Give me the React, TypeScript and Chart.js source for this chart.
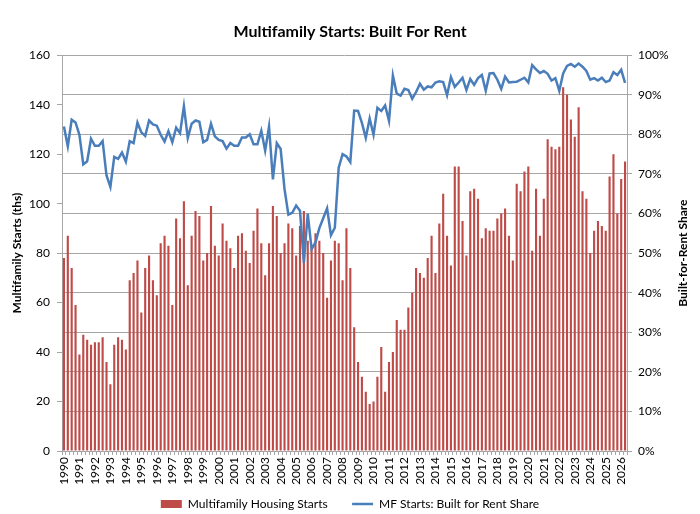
import { useEffect, useRef } from "react"
import { Chart, registerables } from "chart.js"

Chart.register(...registerables)

const TITLE = "Multifamily Starts: Built For Rent"
const LEFT_TITLE = "Multifamily Starts (ths)"
const RIGHT_TITLE = "Built-for-Rent Share"
const BAR_LABEL = "Multifamily Housing Starts"
const LINE_LABEL = "MF Starts: Built for Rent Share"

const YEARS = [
  "1990", "1991", "1992", "1993", "1994", "1995", "1996", "1997", "1998", "1999",
  "2000", "2001", "2002", "2003", "2004", "2005", "2006", "2007", "2008", "2009",
  "2010", "2011", "2012", "2013", "2014", "2015", "2016", "2017", "2018", "2019",
  "2020", "2021", "2022", "2023", "2024", "2025", "2026",
]
const QUARTERS = ["Q1", "Q2", "Q3", "Q4"]

// multifamily starts, thousands (quarterly, 1990Q1 - 2026Q2)
const STARTS = [
  78, 87, 74, 59, 39, 47, 45, 43, 44, 44, 46, 36, 27, 43, 46, 45,
  41, 69, 72, 77, 56, 74, 79, 69, 63, 84, 87, 83, 59, 94, 86, 101,
  67, 87, 97, 95, 77, 80, 99, 83, 79, 92, 85, 82, 74, 87, 88, 81,
  76, 89, 98, 84, 71, 84, 99, 95, 80, 84, 92, 90, 79, 91, 97, 85,
  83, 88, 85, 80, 62, 77, 85, 84, 69, 90, 74, 50, 36, 30, 24, 19,
  20, 30, 42, 24, 36, 40, 53, 49, 49, 58, 64, 74, 72, 70, 78, 87,
  72, 92, 104, 87, 75, 115, 115, 93, 79, 105, 106, 102, 86, 90, 89, 89,
  94, 96, 98, 87, 77, 108, 105, 113, 115, 81, 106, 87, 102, 126, 123, 122,
  123, 147, 144, 134, 127, 139, 105, 102, 80, 89, 93, 91, 89, 111, 120, 96,
  110, 117,
]

// built-for-rent share of multifamily starts, %
const BFR_SHARE = [
  82, 77, 83.7, 83, 79.9, 72.4, 73.2, 78.9, 77.1, 77.1, 78.3, 69.6, 66.7, 74.3, 73.8, 75.4,
  73.1, 78.3, 77.8, 83, 80.5, 79.6, 83.5, 82.5, 82.2, 79.9, 78.2, 80.8, 78, 81.7, 80.3, 87.1,
  79.1, 82.7, 83.5, 83.2, 78, 78.6, 82.7, 79.5, 78.6, 78.3, 76.4, 77.8, 77.1, 77.1, 79.2, 79.2,
  80, 77.5, 77.5, 80.9, 75.9, 82, 68.6, 77.8, 76.3, 66.2, 59.7, 60.2, 62, 60.7, 47.5, 60,
  51, 52.7, 56.3, 58.8, 61.3, 54.5, 56.4, 71.6, 75, 74.4, 73, 86, 85.9, 82.9, 79.1, 84,
  79.9, 86.7, 85.9, 87.3, 83.4, 94.9, 90.3, 89.8, 91.5, 91.2, 89, 90.7, 92.8, 91.3, 92.1, 91.9,
  93.1, 93.4, 93.2, 89.9, 94.5, 92, 93.1, 94.3, 91.2, 94, 92.5, 94.2, 95, 91, 95.4, 95.5,
  93.8, 91.5, 94.6, 93.1, 93.2, 93.3, 93.8, 94.3, 93.1, 97.5, 96.4, 95.5, 96, 95.3, 93.6, 94.2,
  91, 95.4, 97.3, 97.8, 97.1, 97.9, 97.1, 96, 93.8, 94.2, 93.6, 94.3, 93.2, 93.6, 95.7, 95,
  96.3, 93,
]

const LABELS = YEARS.flatMap((y) => QUARTERS.map((q) => `${y} ${q}`)).slice(0, STARTS.length)

const FONT = "Lato, 'Open Sans', sans-serif"
const GRID = "#a6a6a6"

// draws the secondary axis title reading bottom-to-top, like the left one
const rightTitlePlugin = {
  id: "rightTitle",
  afterDraw(chart: Chart) {
    const { ctx, chartArea } = chart
    ctx.save()
    ctx.translate(chart.width - 17, (chartArea.top + chartArea.bottom) / 2)
    ctx.rotate(-Math.PI / 2)
    ctx.font = `bold 12px ${FONT}`
    ctx.fillStyle = "#000"
    ctx.textAlign = "center"
    ctx.textBaseline = "middle"
    ctx.fillText(RIGHT_TITLE, 0, 0)
    ctx.restore()
  },
}

export default function App() {
  const chartRef = useRef<HTMLCanvasElement>(null)
  const chartInstance = useRef<Chart | null>(null)

  useEffect(() => {
    document.body.style.margin = "0"
    if (!chartRef.current) return
    if (chartInstance.current) chartInstance.current.destroy()
    const ctx = chartRef.current.getContext("2d")
    if (!ctx) return

    Chart.defaults.font.family = FONT
    Chart.defaults.color = "#000"

    chartInstance.current = new Chart(ctx, {
      type: "bar",
      data: {
        labels: LABELS,
        datasets: [
          {
            type: "line",
            label: LINE_LABEL,
            data: BFR_SHARE,
            borderColor: "#4a7ebb",
            backgroundColor: "#4a7ebb",
            borderWidth: 2.5,
            pointRadius: 0,
            pointStyle: "line",
            tension: 0,
            yAxisID: "share",
            order: 0,
          },
          {
            type: "bar",
            label: BAR_LABEL,
            data: STARTS,
            backgroundColor: "#be4b48",
            borderWidth: 0,
            pointStyle: "rect",
            barPercentage: 0.55,
            categoryPercentage: 1,
            yAxisID: "starts",
            order: 1,
          },
        ],
      },
      options: {
        animation: false,
        responsive: false,
        layout: { padding: { left: 0, right: 0, top: 0, bottom: -6 } },
        plugins: {
          title: {
            display: true,
            text: TITLE,
            font: { size: 16, weight: "bold" },
            color: "#000",
            padding: { top: 22, bottom: 14 },
          },
          legend: {
            position: "bottom",
            reverse: true,
            labels: {
              usePointStyle: true,
              pointStyleWidth: 21,
              boxHeight: 8,
              padding: 6,
              font: { size: 12 },
              color: "#000",
              generateLabels: (chart) => {
                const items = Chart.defaults.plugins.legend.labels.generateLabels(chart)
                // widen the gap after the first entry, as in the source layout
                return items.map((it) =>
                  it.text === BAR_LABEL ? { ...it, text: it.text + "\u00a0\u00a0\u00a0\u00a0\u00a0\u00a0" } : it
                )
              },
            },
          },
          tooltip: { enabled: false },
        },
        scales: {
          x: {
            offset: true,
            grid: {
              display: true,
              drawOnChartArea: false,
              offset: true,
              tickLength: 4,
              color: GRID,
            },
            border: { display: true, color: GRID },
            ticks: {
              autoSkip: false,
              minRotation: 90,
              maxRotation: 90,
              padding: 2,
              font: { size: 12 },
              color: "#000",
              callback: (_v, i) => (i % 4 === 0 ? LABELS[i].slice(0, 4) : ""),
            },
            afterFit: (scale) => {
              scale.height = 41
            },
          },
          starts: {
            type: "linear",
            position: "left",
            min: 0,
            max: 160,
            ticks: { stepSize: 20, padding: 7, font: { size: 12 }, color: "#000" },
            grid: { drawOnChartArea: false, tickLength: 5, color: GRID },
            border: { display: true, color: GRID },
            title: {
              display: true,
              text: LEFT_TITLE,
              font: { size: 12, weight: "bold" },
              color: "#000",
              padding: { top: 10, bottom: 0 },
            },
            afterFit: (scale) => {
              scale.width = 62
            },
          },
          share: {
            type: "linear",
            position: "right",
            min: 0,
            max: 100,
            ticks: {
              stepSize: 10,
              padding: 6,
              font: { size: 12 },
              color: "#000",
              callback: (v) => `${v}%`,
            },
            grid: { drawOnChartArea: true, tickLength: 5, color: GRID },
            border: { display: true, color: GRID },
            afterFit: (scale) => {
              scale.width = 73
            },
          },
        },
      },
      plugins: [rightTitlePlugin],
    })

    return () => {
      if (chartInstance.current) {
        chartInstance.current.destroy()
        chartInstance.current = null
      }
    }
  }, [])

  return (
    <div style={{ width: 700, height: 514 }}>
      <canvas ref={chartRef} width={700} height={514} />
    </div>
  )
}
